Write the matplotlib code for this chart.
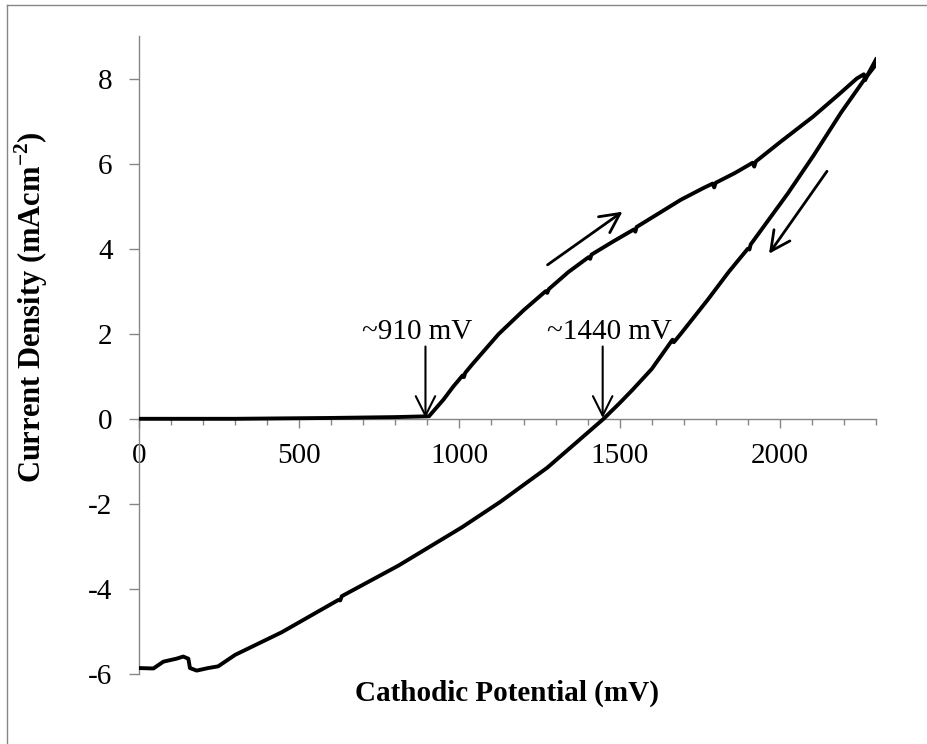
import matplotlib
matplotlib.use("Agg")
import matplotlib.pyplot as plt
from matplotlib.lines import Line2D
from matplotlib.ticker import MultipleLocator

plt.rcParams['font.family'] = ['Liberation Serif', 'DejaVu Serif']
plt.rcParams['mathtext.fontset'] = 'custom'
plt.rcParams['mathtext.rm'] = 'Liberation Serif'
plt.rcParams['mathtext.bf'] = 'Liberation Serif:bold'
plt.rcParams['axes.unicode_minus'] = False

# Forward scan (increasing potential)
fwd_x = [0, 300, 600, 800, 905, 950, 981, 1010, 1014, 1018, 1040, 1122, 1200,
         1269, 1274, 1279, 1340, 1403, 1408, 1412, 1480, 1544, 1549, 1553, 1620,
         1691, 1760, 1790, 1795, 1800, 1860, 1915, 1920, 1925, 2000, 2103, 2180,
         2240, 2262, 2266, 2272, 2300]
fwd_y = [0.0, 0.0, 0.02, 0.04, 0.06, 0.45, 0.76, 1.02, 0.98, 1.08, 1.28, 1.99,
         2.55, 3.00, 2.96, 3.05, 3.45, 3.80, 3.76, 3.86, 4.17, 4.45, 4.40, 4.51,
         4.82, 5.15, 5.42, 5.53, 5.44, 5.55, 5.78, 6.02, 5.93, 6.05, 6.50, 7.10,
         7.60, 8.00, 8.10, 7.96, 8.06, 8.45]

# Reverse scan (decreasing potential)
rev_x = [2300, 2263, 2191, 2106, 2025, 1909, 1905, 1900, 1840, 1775, 1691, 1669,
         1665, 1600, 1540, 1500, 1450, 1366, 1274, 1128, 1008, 810, 633, 628, 622,
         445, 300, 247, 216, 180, 159, 154, 138, 117, 76, 45, 0]
rev_y = [8.33, 7.97, 7.20, 6.20, 5.30, 4.10, 3.98, 4.00, 3.45, 2.80, 2.00, 1.80,
         1.86, 1.17, 0.68, 0.37, 0.0, -0.55, -1.15, -1.95, -2.55, -3.45, -4.17,
         -4.27, -4.26, -5.02, -5.55, -5.82, -5.86, -5.92, -5.86, -5.64, -5.59,
         -5.64, -5.71, -5.87, -5.86]

x_major = [0, 500, 1000, 1500, 2000]
y_major = [-6, -4, -2, 0, 2, 4, 6, 8]

W, H = 927, 744
fig = plt.figure(figsize=(W / 100, H / 100), dpi=100)
ax = fig.add_axes([139 / W, 1 - 674 / H, (876 - 139) / W, (674 - 36) / H])

ax.plot(fwd_x, fwd_y, color='black', lw=2.8, solid_joinstyle='round', zorder=3)
ax.plot(rev_x, rev_y, color='black', lw=2.8, solid_joinstyle='round', zorder=3)

ax.set_xlim(0, 2300)
ax.set_ylim(-6, 9)

gray = '#868686'
for s in ['top', 'right']:
    ax.spines[s].set_visible(False)
ax.spines['left'].set_position(('data', 0))
ax.spines['bottom'].set_position(('data', 0))
for s in ['left', 'bottom']:
    ax.spines[s].set_color(gray)
    ax.spines[s].set_linewidth(1.0)

ax.set_xticks(x_major)
ax.set_xticklabels([str(v) for v in x_major])
ax.xaxis.set_minor_locator(MultipleLocator(100))
ax.set_yticks(y_major)
ax.set_yticklabels([str(v) for v in y_major])

ax.tick_params(axis='x', which='major', direction='out', length=6.5, width=1.0,
               color=gray, labelsize=21, pad=11)
ax.tick_params(axis='x', which='minor', direction='out', length=4.5, width=1.0,
               color=gray)
ax.tick_params(axis='y', which='major', direction='out', length=7, width=1.0,
               color=gray, labelsize=21, pad=12)

# Annotations
arrow_kw = dict(arrowstyle='->,head_length=0.7,head_width=0.35', color='black',
                lw=1.5, mutation_scale=20, shrinkA=0, shrinkB=0)
ax.annotate('', xy=(894, 0.02), xytext=(894, 1.70), arrowprops=arrow_kw)
ax.annotate('', xy=(1447, 0.02), xytext=(1447, 1.70), arrowprops=arrow_kw)
ax.text(869, 1.87, '~910 mV', ha='center', va='baseline', fontsize=21)
ax.text(1469, 1.87, '~1440 mV', ha='center', va='baseline', fontsize=21)

dir_kw = dict(arrowstyle='->,head_length=0.7,head_width=0.35', color='black',
              lw=2.0, mutation_scale=20, shrinkA=0, shrinkB=0)
ax.annotate('', xy=(1509, 4.87), xytext=(1275, 3.62), arrowprops=dir_kw)
ax.annotate('', xy=(1966, 3.88), xytext=(2147, 5.82), arrowprops=dir_kw)

fig.text(507 / W, 1 - 693 / H, 'Cathodic Potential (mV)', ha='center',
         va='center', fontsize=21, fontweight='bold')
fig.text(31 / W, 1 - 307 / H, r'Current Density (mAcm$^{\mathbf{-2}}$)',
         ha='center', va='center', rotation=90, fontsize=22, fontweight='bold')

# Chart-area border
fig.add_artist(Line2D([7 / W, 7 / W], [0, 1 - 5 / H], color=gray, lw=1.0,
                      transform=fig.transFigure))
fig.add_artist(Line2D([7 / W, 1], [1 - 5 / H, 1 - 5 / H], color=gray, lw=1.0,
                      transform=fig.transFigure))

fig.savefig('out.png', dpi=100)
